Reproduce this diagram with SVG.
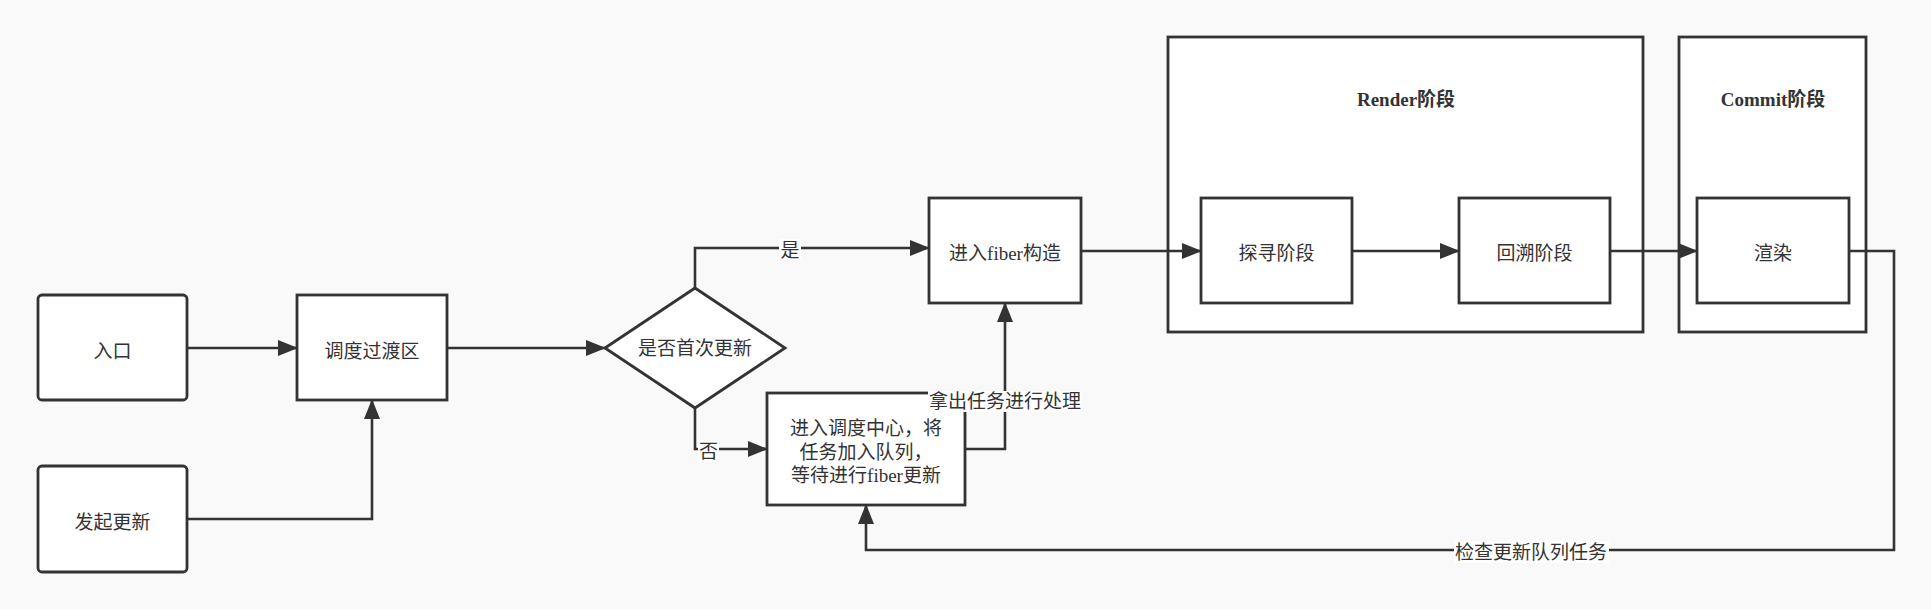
<svg xmlns="http://www.w3.org/2000/svg" width="1931" height="609" viewBox="0 0 1931 609">
<defs>
<style>
.box{fill:#ffffff;stroke:#333333;stroke-width:2.8}
.edge{fill:none;stroke:#333333;stroke-width:2.6}
.t{font-family:"Liberation Serif","Noto Sans CJK SC",serif;font-size:19px;fill:#333333;text-anchor:middle}
.c{font-family:"Noto Sans CJK SC","Liberation Sans",sans-serif;font-size:19px;fill:#333333;text-anchor:middle}
.h{font-family:"Liberation Serif","Noto Sans CJK SC",serif;font-size:19px;font-weight:bold;fill:#333333;text-anchor:middle}
.lbg{fill:#ffffff}
</style>
<marker id="arr" markerUnits="userSpaceOnUse" markerWidth="21" markerHeight="17" refX="19" refY="8" orient="auto">
<path d="M0,0 L20,8 L0,16 z" fill="#333333"/>
</marker>
</defs>
<rect x="0" y="0" width="1931" height="609" fill="#f9f9f9"/>
<g id="render-stage">
<rect class="box" x="1168" y="37" width="475" height="295"/>
<text class="h" x="1406" y="106">Render阶段</text>
</g>
<g id="commit-stage">
<rect class="box" x="1679" y="37" width="187" height="295"/>
<text class="h" x="1773" y="106">Commit阶段</text>
</g>
<g id="entry">
<rect class="box" x="38" y="295" width="149" height="105" rx="4"/>
<text class="c" x="112.5" y="358">入口</text>
</g>
<g id="trigger">
<rect class="box" x="38" y="466" width="149" height="106" rx="4"/>
<text class="c" x="112.5" y="529">发起更新</text>
</g>
<g id="transition">
<rect class="box" x="297" y="295" width="150" height="105"/>
<text class="c" x="372" y="358">调度过渡区</text>
</g>
<g id="decision">
<polygon class="box" points="605,348 695,288 785,348 695,408"/>
<text class="c" x="695" y="355">是否首次更新</text>
</g>
<g id="fiber">
<rect class="box" x="929" y="198" width="152" height="105"/>
<text class="t" x="1005" y="260">进入fiber构造</text>
</g>
<g id="queue">
<rect class="box" x="767" y="393" width="198" height="112"/>
<text class="t" x="866" y="435">进入调度中心，将</text>
<text class="t" x="866" y="459">任务加入队列，</text>
<text class="t" x="866" y="482">等待进行fiber更新</text>
</g>
<g id="explore">
<rect class="box" x="1201" y="198" width="151" height="105"/>
<text class="c" x="1276.5" y="260">探寻阶段</text>
</g>
<g id="backtrack">
<rect class="box" x="1459" y="198" width="151" height="105"/>
<text class="c" x="1534.5" y="260">回溯阶段</text>
</g>
<g id="paint">
<rect class="box" x="1697" y="198" width="152" height="105"/>
<text class="c" x="1773" y="260">渲染</text>
</g>
<g id="connectors">
<path class="edge" d="M187,348 H297" marker-end="url(#arr)"/>
<path class="edge" d="M187,519 H372 V400" marker-end="url(#arr)"/>
<path class="edge" d="M447,348 H605" marker-end="url(#arr)"/>
<path class="edge" d="M695,288 V248 H929" marker-end="url(#arr)"/>
<path class="edge" d="M695,408 V449 H767" marker-end="url(#arr)"/>
<path class="edge" d="M965,449 H1005 V303" marker-end="url(#arr)"/>
<path class="edge" d="M1081,251 H1201" marker-end="url(#arr)"/>
<path class="edge" d="M1352,251 H1459" marker-end="url(#arr)"/>
<path class="edge" d="M1610,251 H1697" marker-end="url(#arr)"/>
<path class="edge" d="M1849,251 H1894 V550 H866 V505" marker-end="url(#arr)"/>
<rect class="lbg" x="779" y="239" width="22" height="21"/>
<text class="c" x="790" y="257">是</text>
<rect class="lbg" x="698" y="441" width="21" height="21"/>
<text class="c" x="708.5" y="458">否</text>
<rect class="lbg" x="928" y="391" width="154" height="21"/>
<text class="c" x="1005" y="408">拿出任务进行处理</text>
<rect class="lbg" x="1454" y="541" width="155" height="22"/>
<text class="c" x="1531" y="559">检查更新队列任务</text>
</g>
</svg>
